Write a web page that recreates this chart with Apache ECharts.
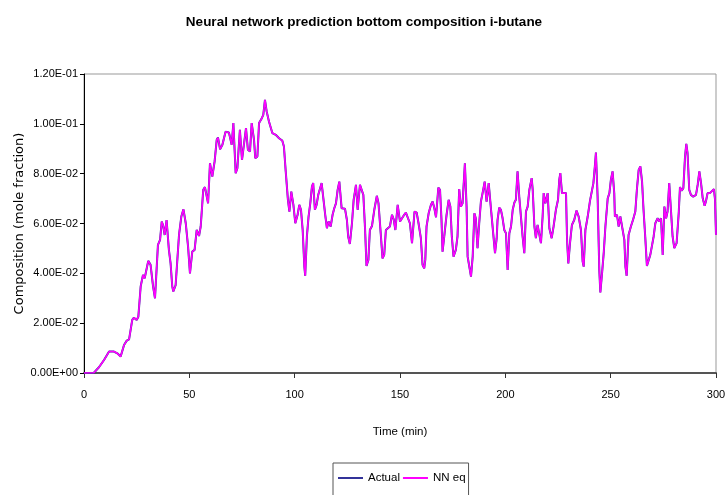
<!DOCTYPE html>
<html>
<head>
<meta charset="utf-8">
<script src="https://cdn.jsdelivr.net/npm/echarts@6/dist/echarts.min.js"></script>
<style>
  html, body { margin: 0; padding: 0; background: #fff; }
  #chart { width: 728px; height: 495px; }
</style>
</head>
<body>
<div id="chart"></div>
<script>
// Time stamps (min) of the sampled trace
const timeMin = [
  0, 4.7, 7.1, 9.5, 11.9, 14.2, 15.8, 17.4, 19.0, 20.3, 21.4, 22.9, 23.7, 25.0, 25.8, 26.9, 28.0, 28.8,
  30.5, 31.6, 32.8, 33.7, 34.4, 35.1, 36.1, 36.9, 37.5, 38.3, 39.2, 40.3, 41.1, 41.9, 42.4, 43.5, 45.1,
  46.2, 47.2, 48.3, 49.4, 50.3, 51.4, 52.5, 53.5, 54.6, 55.4, 56.6, 57.4, 58.9, 59.8, 60.9, 62.0, 63.0,
  63.6, 64.6, 65.7, 67.2, 68.8, 70.1, 70.9, 72.0, 72.8, 74.0, 75.0, 75.9, 76.9, 77.8, 78.8, 79.6, 80.7,
  81.3, 82.3, 83.1, 84.2, 85.1, 85.9, 86.7, 87.8, 89.4, 91.0, 92.6, 94.1, 94.9, 95.7, 96.8, 97.5, 98.4,
  99.4, 100.3, 101.4, 102.2, 103.0, 103.8, 104.6, 105.0, 105.8, 106.6, 107.4, 108.2, 108.8, 109.6,
  110.4, 111.2, 112.0, 112.8, 113.6, 114.5, 115.3, 116.1, 117.1, 118.0, 118.8, 119.6, 120.4, 121.2,
  122.3, 123.9, 124.8, 125.4, 126.2, 127.2, 128.0, 129.1, 129.9, 131.0, 131.8, 132.6, 133.4, 134.1,
  135.0, 135.7, 136.7, 137.8, 139.0, 139.8, 140.9, 141.7, 142.5, 143.3, 144.1, 145.2, 146.2, 147.0,
  147.8, 148.9, 150.0, 150.9, 152.0, 152.8, 153.8, 154.7, 155.7, 156.9, 157.9, 158.8, 159.9, 160.7,
  161.5, 162.0, 162.6, 163.6, 164.7, 165.5, 166.3, 167.1, 168.2, 169.0, 169.7, 170.2, 171.0, 172.1,
  173.1, 173.9, 174.6, 175.4, 176.5, 177.3, 178.1, 178.9, 179.7, 180.8, 181.6, 182.1, 182.9, 183.7,
  184.5, 185.3, 186.0, 186.8, 187.6, 188.4, 189.2, 190.2, 191.1, 192.1, 193.3, 194.2, 195.1, 195.9,
  196.3, 197.1, 197.9, 198.7, 199.5, 200.3, 201.1, 201.9, 202.7, 203.5, 204.3, 205.0, 205.8, 206.6,
  207.4, 208.2, 209.0, 209.8, 210.6, 211.4, 212.5, 213.0, 213.8, 214.5, 215.3, 216.1, 216.9, 217.7,
  218.2, 219.0, 220.1, 220.9, 222.0, 222.9, 224.0, 225.0, 225.6, 226.1, 226.9, 228.8, 229.3, 229.9,
  230.7, 231.6, 232.7, 233.8, 234.8, 235.9, 236.7, 237.2, 238.0, 239.1, 240.2, 241.1, 241.8, 242.5,
  243.0, 243.8, 244.6, 245.1, 245.9, 246.7, 247.5, 248.6, 249.4, 250.1, 250.9, 251.7, 252.0, 253.0,
  253.8, 254.6, 255.4, 256.5, 257.0, 257.6, 258.5, 259.6, 260.7, 261.7, 262.5, 263.3, 264.1, 264.9,
  265.6, 266.4, 267.2, 268.0, 268.8, 269.6, 270.4, 271.2, 272.3, 273.1, 273.9, 274.7, 275.5, 276.3,
  277.0, 277.8, 278.6, 279.4, 280.2, 281.3, 282.3, 282.9, 283.7, 284.5, 285.3, 285.9, 286.5, 287.3,
  288.1, 289.2, 290.5, 291.3, 292.1, 292.9, 293.7, 294.6, 295.2, 296.0, 297.1, 298.0, 299.0, 299.5,
  300.0
];

// i-butane bottom composition (mole fraction); the NN eq prediction tracks it within line width
const composition = [
  0, 0.0001, 0.0023, 0.0052, 0.0086, 0.0086, 0.0079, 0.0066, 0.0112, 0.0130, 0.0135, 0.0213, 0.0222,
  0.0213, 0.0226, 0.0347, 0.0394, 0.0380, 0.0450, 0.0434, 0.0347, 0.0300, 0.0300, 0.0514, 0.0534,
  0.0608, 0.0594, 0.0554, 0.0614, 0.0494, 0.0440, 0.0347, 0.0327, 0.0353, 0.0554, 0.0628, 0.0657,
  0.0601, 0.0507, 0.0400, 0.0487, 0.0494, 0.0574, 0.0550, 0.0588, 0.0735, 0.0746, 0.0681, 0.0842,
  0.0788, 0.0849, 0.0936, 0.0945, 0.0898, 0.0916, 0.0968, 0.0965, 0.0916, 0.1003, 0.0802, 0.0822,
  0.0976, 0.0855, 0.0855, 0.0983, 0.0896, 0.0889, 0.1003, 0.0936, 0.0862, 0.0869, 0.1003, 0.1019,
  0.1036, 0.1096, 0.1050, 0.1009, 0.0963, 0.0956, 0.0942, 0.0933, 0.0909, 0.0815, 0.0695, 0.0648,
  0.0728, 0.0675, 0.0601, 0.0635, 0.0675, 0.0655, 0.0574, 0.0427, 0.0390, 0.0548, 0.0628, 0.0681,
  0.0748, 0.0762, 0.0655, 0.0675, 0.0715, 0.0722, 0.0762, 0.0755, 0.0635, 0.0581, 0.0608, 0.0588,
  0.0635, 0.0661, 0.0681, 0.0735, 0.0768, 0.0661, 0.0659, 0.0614, 0.0548, 0.0518, 0.0601, 0.0695,
  0.0755, 0.0655, 0.0755, 0.0755, 0.0715, 0.0581, 0.0430, 0.0454, 0.0574, 0.0590, 0.0655, 0.0711,
  0.0681, 0.0554, 0.0460, 0.0474, 0.0574, 0.0581, 0.0588, 0.0635, 0.0617, 0.0574, 0.0675, 0.0608,
  0.0614, 0.0635, 0.0644, 0.0621, 0.0601, 0.0521, 0.0648, 0.0644, 0.0601, 0.0541, 0.0434, 0.0420,
  0.0454, 0.0588, 0.0641, 0.0675, 0.0688, 0.0661, 0.0625, 0.0744, 0.0735, 0.0614, 0.0487, 0.0548,
  0.0635, 0.0695, 0.0668, 0.0548, 0.0467, 0.0494, 0.0548, 0.0738, 0.0668, 0.0681, 0.0842, 0.0668,
  0.0467, 0.0460, 0.0387, 0.0467, 0.0641, 0.0620, 0.0501, 0.0601, 0.0688, 0.0722, 0.0768, 0.0688,
  0.0762, 0.0648, 0.0648, 0.0481, 0.0541, 0.0614, 0.0664, 0.0655, 0.0621, 0.0574, 0.0561, 0.0414,
  0.0561, 0.0588, 0.0655, 0.0684, 0.0695, 0.0809, 0.0708, 0.0701, 0.0548, 0.0481, 0.0648, 0.0668,
  0.0735, 0.0782, 0.0735, 0.0588, 0.0541, 0.0594, 0.0594, 0.0521, 0.0628, 0.0722, 0.0681, 0.0722,
  0.0581, 0.0541, 0.0588, 0.0655, 0.0695, 0.0775, 0.0802, 0.0722, 0.0722, 0.0534, 0.0440, 0.0521,
  0.0594, 0.0614, 0.0652, 0.0628, 0.0574, 0.0447, 0.0427, 0.0574, 0.0628, 0.0692, 0.0695, 0.0762,
  0.0829, 0.0885, 0.0708, 0.0414, 0.0323, 0.0400, 0.0481, 0.0588, 0.0701, 0.0722, 0.0775, 0.0809,
  0.0722, 0.0628, 0.0635, 0.0588, 0.0628, 0.0621, 0.0534, 0.0427, 0.0390, 0.0554, 0.0588, 0.0617,
  0.0648, 0.0742, 0.0815, 0.0829, 0.0768, 0.0655, 0.0548, 0.0430, 0.0434, 0.0474, 0.0510, 0.0548,
  0.0601, 0.0621, 0.0608, 0.0621, 0.0474, 0.0668, 0.0621, 0.0648, 0.0762, 0.0655, 0.0548, 0.0501,
  0.0521, 0.0641, 0.0746, 0.0732, 0.0742, 0.0869, 0.0920, 0.0882, 0.0735, 0.0715, 0.0708, 0.0715,
  0.0755, 0.0809, 0.0762, 0.0701, 0.0671, 0.0688, 0.0722, 0.0722, 0.0722, 0.0738, 0.0700, 0.0554
];

const xTicks = { min: 0, max: 300, step: 50 };
const yTicks = { min: 0, max: 0.12, step: 0.02 };

const actualSeries = timeMin.map((t, i) => [t, composition[i]]);
const nnEqSeries = timeMin.map((t, i) => [t, composition[i]]);

const sans = '"Liberation Sans", Arial, sans-serif';

function sciLabel(v) {
  const parts = v.toExponential(2).split('e');
  const n = parseInt(parts[1], 10);
  return parts[0] + 'E' + (n < 0 ? '-' : '+') + String(Math.abs(n)).padStart(2, '0');
}

const chart = echarts.init(document.getElementById('chart'), null, { renderer: 'canvas' });
chart.setOption({
  animation: false,
  backgroundColor: '#ffffff',
  title: {
    text: 'Neural network prediction bottom composition i-butane',
    left: 'center',
    top: 10,
    textStyle: { fontFamily: sans, fontWeight: 'bold', fontSize: 13.5, color: '#000' }
  },
  legend: {
    left: 333,
    top: 463,
    padding: [9, 3, 14, 5],
    itemGap: 3,
    itemWidth: 25,
    itemHeight: 2,
    icon: 'rect',
    borderColor: '#555',
    borderWidth: 1,
    textStyle: { fontFamily: sans, fontSize: 11.5, color: '#000' },
    data: ['Actual', 'NN eq']
  },
  grid: {
    left: 84, right: 12, top: 74, bottom: 122,
    outerBoundsMode: 'none',
    containLabel: false,
    show: true, borderColor: '#999', borderWidth: 1
  },
  xAxis: {
    type: 'value',
    min: xTicks.min, max: xTicks.max, interval: xTicks.step,
    name: 'Time (min)',
    nameLocation: 'middle',
    nameGap: 53,
    nameTextStyle: { fontFamily: sans, fontSize: 11.5, color: '#000' },
    axisLine: { lineStyle: { color: '#555', width: 2 } },
    axisTick: { show: true, length: 5, lineStyle: { color: '#333' } },
    axisLabel: { fontFamily: sans, fontSize: 11, color: '#000', margin: 16 },
    splitLine: { show: false }
  },
  yAxis: {
    type: 'value',
    min: yTicks.min, max: yTicks.max, interval: yTicks.step,
    name: 'Composition (mole fraction)',
    nameLocation: 'middle',
    nameGap: 58,
    nameMoveOverlap: false,
    nameTextStyle: { fontFamily: '"DejaVu Sans", sans-serif', fontSize: 13, color: '#000' },
    axisLine: { show: true, lineStyle: { color: '#000', width: 1 } },
    axisTick: { show: true, length: 4, lineStyle: { color: '#000' } },
    axisLabel: { fontFamily: sans, fontSize: 11, color: '#000', margin: 6, formatter: sciLabel },
    splitLine: { show: false }
  },
  series: [
    {
      name: 'Actual',
      type: 'line',
      data: actualSeries,
      showSymbol: false,
      color: '#333399',
      lineStyle: { width: 2, color: '#333399' },
      z: 2
    },
    {
      name: 'NN eq',
      type: 'line',
      data: nnEqSeries,
      showSymbol: false,
      color: '#ff00ff',
      lineStyle: { width: 1.6, color: '#ff00ff' },
      z: 3
    }
  ]
});
</script>
</body>
</html>
